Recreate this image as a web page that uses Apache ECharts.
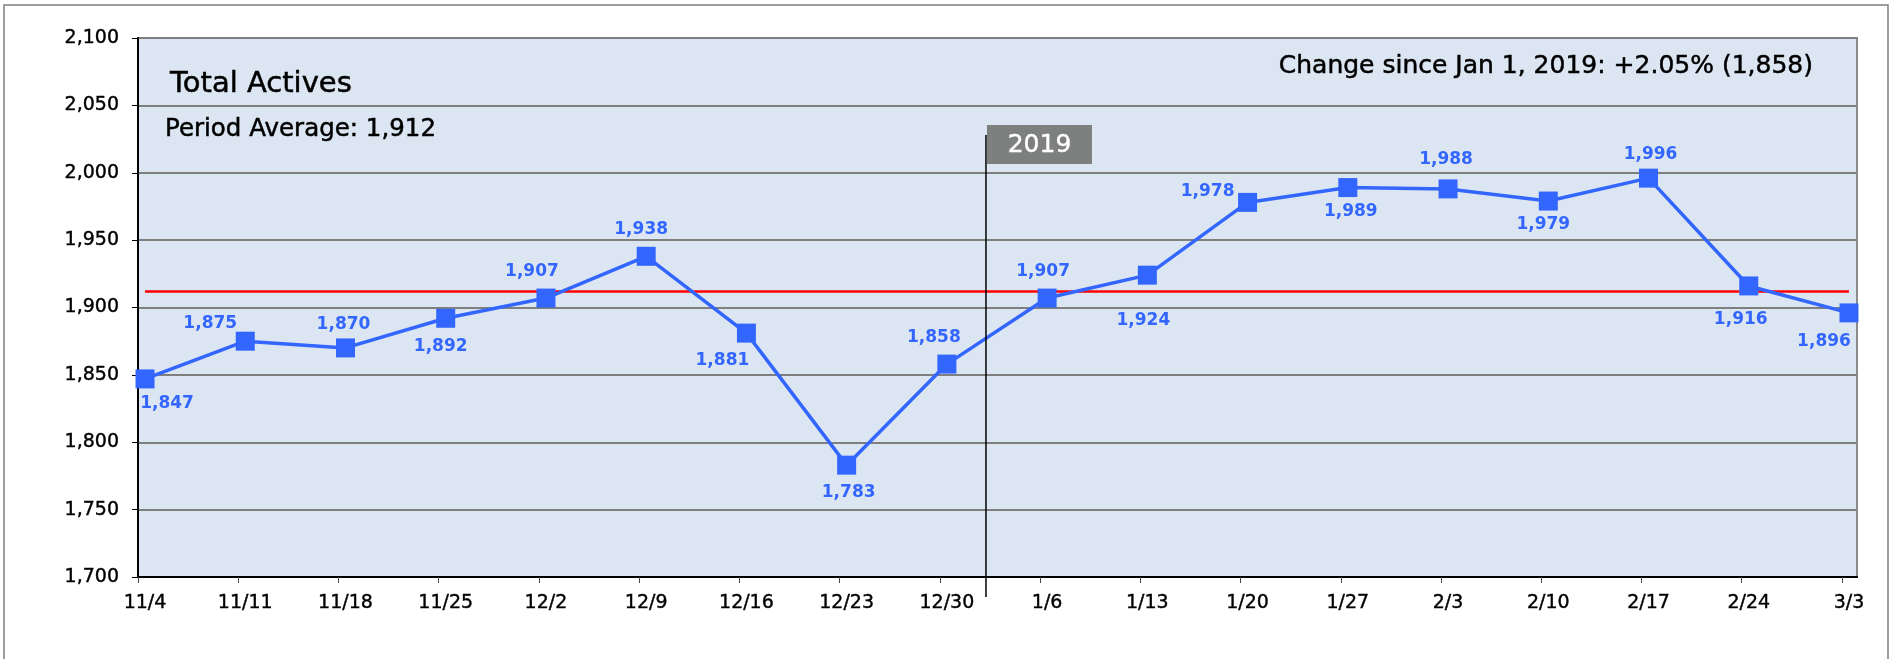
<!DOCTYPE html>
<html>
<head>
<meta charset="utf-8">
<script src="https://cdn.jsdelivr.net/npm/echarts@6/dist/echarts.min.js"></script>
<style>
  html, body { margin: 0; padding: 0; background: #ffffff; }
  #chart { width: 1895px; height: 659px; }
</style>
</head>
<body>
<div id="chart"></div>
<script>
// ---- data ----
const categories = ['11/4','11/11','11/18','11/25','12/2','12/9','12/16','12/23','12/30','1/6','1/13','1/20','1/27','2/3','2/10','2/17','2/24','3/3'];
const activeCounts = [1847,1875,1870,1892,1907,1938,1881,1783,1858,1907,1924,1978,1989,1988,1979,1996,1916,1896];
const periodAverage = 1912;
const yMin = 1700, yMax = 2100, yStep = 50;
const chartTitle = 'Total Actives';
const averageText = 'Period Average: 1,912';
const changeText = 'Change since Jan 1, 2019: +2.05% (1,858)';
const dividerLabel = '2019';
const dividerIndex = 8.39; // position between 12/30 and 1/6

// ---- layout (label offsets in px, relative to each point) ----
const labelOffsets = [[22,25],[-35,-18],[-2,-23],[-5,28],[-14,-26],[-5,-27],[-24,27],[2,27],[-13,-27],
  [-4,-26],[-4,45],[-40,-11],[3,24],[-2,-29],[-5,24],[2,-24],[-8,34],[-25,29]];

const fmt = v => Number(v).toLocaleString('en-US');
const FONT = '"DejaVu Sans", sans-serif';
const BLUE = '#3366ff';

const chart = echarts.init(document.getElementById('chart'), null, {renderer: 'canvas'});

const seriesData = activeCounts.map((v, i) => ({
  value: [i, v],
  label: { offset: labelOffsets[i] }
}));

const option = {
  animation: false,
  backgroundColor: '#ffffff',
  grid: {
    left: 138, right: 38, top: 38, bottom: 82,
    show: true, backgroundColor: '#dce6f2', borderColor: '#8c8c8c', borderWidth: 2
  },
  xAxis: {
    type: 'value',
    min: -0.07, max: 17.08,
    axisLine: { show: true, onZero: false, lineStyle: { color: '#000', width: 2 } },
    axisTick: { show: true, length: 6, lineStyle: { color: '#444', width: 1 },
      customValues: categories.map((c, i) => i - 0.07) },
    axisLabel: { show: true, margin: 17, color: '#000', fontFamily: FONT, fontSize: 19,
      textBorderColor: '#000', textBorderWidth: 0.4,
      customValues: categories.map((c, i) => i),
      formatter: v => categories[Math.round(v)] || '' },
    splitLine: { show: false }
  },
  yAxis: {
    type: 'value',
    min: yMin, max: yMax, interval: yStep,
    axisLine: { show: true, onZero: false, lineStyle: { color: '#000', width: 2 } },
    axisTick: { show: true, length: 6, lineStyle: { color: '#000', width: 1 } },
    axisLabel: { margin: 19, color: '#000', fontFamily: FONT, fontSize: 19,
      textBorderColor: '#000', textBorderWidth: 0.4, formatter: fmt },
    splitLine: { show: true, lineStyle: { color: '#7f7f7f', width: 2 } }
  },
  series: [{
    type: 'line',
    data: seriesData,
    symbol: 'rect',
    symbolSize: 19,
    itemStyle: { color: BLUE },
    lineStyle: { color: BLUE, width: 3.5 },
    label: {
      show: true, position: 'inside', color: BLUE,
      fontFamily: FONT, fontWeight: 'bold', fontSize: 17,
      formatter: p => fmt(p.value[1])
    },
    z: 5,
    markLine: {
      silent: true,
      symbol: ['none', 'none'],
      label: { show: false },
      lineStyle: { color: '#ff0000', width: 2.5, type: 'solid' },
      data: [[{ coord: [0, periodAverage] }, { coord: [categories.length - 1, periodAverage] }]]
    }
  }]
};
chart.setOption(option);

const dx = chart.convertToPixel({ xAxisIndex: 0 }, dividerIndex);
const textStyleBase = { fill: '#000', stroke: '#000', lineWidth: 0.5 };

chart.setOption({
  graphic: [
    { type: 'rect', silent: true, z: 0,
      shape: { x: 4, y: 5, width: 1884, height: 700 },
      style: { fill: 'none', stroke: '#7f7f7f', lineWidth: 1.5 } },
    { type: 'text', silent: true, z: 10,
      style: Object.assign({}, textStyleBase, { text: chartTitle, x: 170, y: 84, font: '29px ' + FONT,
        align: 'left', verticalAlign: 'middle', textAlign: 'left', textVerticalAlign: 'middle' }) },
    { type: 'text', silent: true, z: 10,
      style: Object.assign({}, textStyleBase, { text: averageText, x: 165, y: 130, font: '24.5px ' + FONT,
        align: 'left', verticalAlign: 'middle', textAlign: 'left', textVerticalAlign: 'middle' }) },
    { type: 'text', silent: true, z: 10,
      style: Object.assign({}, textStyleBase, { text: changeText, x: 1813, y: 66, font: '25px ' + FONT,
        align: 'right', verticalAlign: 'middle', textAlign: 'right', textVerticalAlign: 'middle' }) },
    { type: 'line', silent: true, z: 10,
      shape: { x1: dx, y1: 135, x2: dx, y2: 597 },
      style: { stroke: '#000', lineWidth: 1.5 } },
    { type: 'rect', silent: true, z: 10,
      shape: { x: dx + 1, y: 125, width: 105, height: 39 },
      style: { fill: '#7d807f' } },
    { type: 'text', silent: true, z: 11,
      style: { text: dividerLabel, x: dx + 53.5, y: 145, fill: '#fff', stroke: '#fff', lineWidth: 0.4,
        font: '25px ' + FONT,
        align: 'center', verticalAlign: 'middle', textAlign: 'center', textVerticalAlign: 'middle' } }
  ]
});
</script>
</body>
</html>
